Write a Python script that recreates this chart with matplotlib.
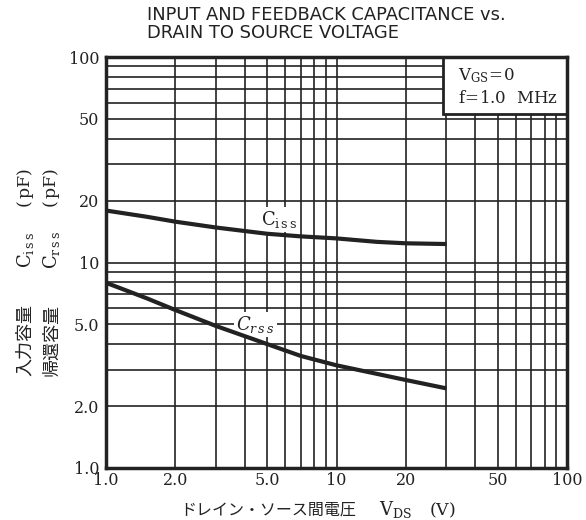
import matplotlib
matplotlib.use("Agg")
import matplotlib.pyplot as plt
from matplotlib.ticker import FixedLocator, FixedFormatter, NullFormatter
from matplotlib.patches import Rectangle

# ---- data ----
vds = [1, 1.5, 2, 3, 5, 7, 10, 15, 20, 30]
ciss = [17.9, 16.7, 15.8, 14.8, 13.8, 13.4, 13.1, 12.6, 12.4, 12.3]
crss = [7.97, 6.7, 5.87, 4.91, 4.01, 3.51, 3.16, 2.87, 2.68, 2.44]

x_ticks = [1, 2, 5, 10, 20, 50, 100]
x_ticklabels = ["1.0", "2.0", "5.0", "10", "20", "50", "100"]
y_ticks = [1, 2, 5, 10, 20, 50, 100]
y_ticklabels = ["1.0", "2.0", "5.0", "10", "20", "50", "100"]
minor_vals = [2, 3, 4, 5, 6, 7, 8, 9, 10, 20, 30, 40, 50, 60, 70, 80, 90]

title_lines = ["INPUT AND FEEDBACK CAPACITANCE vs.", "DRAIN TO SOURCE VOLTAGE"]
plt.rcParams['mathtext.fontset'] = 'dejavuserif'

W, H = 586, 520
fig = plt.figure(figsize=(W / 100, H / 100), dpi=100)
ax = fig.add_axes([106 / W, 1 - 468 / H, (567 - 106) / W, (468 - 57) / H])
ax.set_xscale('log')
ax.set_yscale('log')
ax.set_xlim(1, 100)
ax.set_ylim(1, 100)

ink = '#222222'
for v in minor_vals:
    ax.axvline(v, color=ink, lw=1.2, zorder=1)
    ax.axhline(v, color=ink, lw=1.2, zorder=1)

ax.plot(vds, ciss, color=ink, lw=3.0, zorder=4.5, solid_capstyle='butt')
ax.plot(vds, crss, color=ink, lw=3.0, zorder=4.5, solid_capstyle='butt')

for s in ax.spines.values():
    s.set_linewidth(2.5)
    s.set_color(ink)
    s.set_zorder(6)

ax.xaxis.set_major_locator(FixedLocator(x_ticks))
ax.xaxis.set_major_formatter(FixedFormatter(x_ticklabels))
ax.xaxis.set_minor_formatter(NullFormatter())
ax.yaxis.set_major_locator(FixedLocator(y_ticks))
ax.yaxis.set_major_formatter(FixedFormatter(y_ticklabels))
ax.yaxis.set_minor_formatter(NullFormatter())
ax.tick_params(which='both', length=0, labelsize=11.5, colors=ink)
ax.tick_params(axis='x', pad=3)
ax.tick_params(axis='y', pad=5)
for lab in ax.get_xticklabels() + ax.get_yticklabels():
    lab.set_fontfamily('DejaVu Serif')

# curve labels with white background
ax.text(5.65, 16.2, r'$\mathrm{C}_{\mathrm{i\,s\,s}}$', fontsize=13, ha='center', va='center',
        zorder=4, color=ink,
        bbox=dict(facecolor='white', edgecolor='none', pad=1.5))
ax.text(4.45, 5.0, r'$C_{r\,s\,s}$', fontsize=13, ha='center', va='center',
        zorder=4, color=ink,
        bbox=dict(facecolor='white', edgecolor='none', pad=1.5))

# condition box
bx0 = (443 - 106) / (567 - 106)
by0 = (468 - 114) / (468 - 57)
ax.add_patch(Rectangle((bx0, by0), 1 - bx0, 1 - by0, transform=ax.transAxes,
                       facecolor='white', edgecolor=ink, lw=2.0, zorder=5))
fig.text(458 / W, 1 - 76 / H, r'$\mathrm{V_{GS}\!=\!0}$',
         fontsize=12, va='center', ha='left', zorder=7, color=ink)
fig.text(458 / W, 1 - 98 / H, r'$\mathrm{f\!=\!1.0\ \ MHz}$',
         fontsize=12, va='center', ha='left', zorder=7, color=ink)

# title
fig.text(147 / W, 1 - 14.5 / H, title_lines[0], fontsize=12.9, ha='left', va='center',
         family='DejaVu Sans', color=ink)
fig.text(147 / W, 1 - 33 / H, title_lines[1], fontsize=12.9, ha='left', va='center',
         family='DejaVu Sans', color=ink)

cjk = ['Noto Sans CJK JP', 'DejaVu Sans']
# y labels (rotated), built from pieces
for xc, jp, sub in [(25, '入力容量', 'iss'), (51, '帰還容量', 'rss')]:
    fig.text(xc / W, 1 - 340 / H, jp, rotation=90, fontsize=13,
             ha='center', va='center', family=cjk, color=ink)
    fig.text(xc / W, 1 - 250 / H, r'$\mathrm{C}_{\mathrm{%s}}$' % '\\,'.join(sub), rotation=90,
             fontsize=13, ha='center', va='center', color=ink)
    fig.text(xc / W, 1 - 188 / H, r'$\mathrm{(\,pF)}$', rotation=90,
             fontsize=12.5, ha='center', va='center', color=ink)

# x label, built from pieces
fig.text(268 / W, 1 - 510 / H, 'ドレイン・ソース間電圧', fontsize=11.5,
         ha='center', va='center', family=cjk, color=ink)
fig.text(396 / W, 1 - 510 / H, r'$\mathrm{V_{DS}}$', fontsize=13,
         ha='center', va='center', color=ink)
fig.text(442 / W, 1 - 510 / H, r'$\mathrm{(V)}$', fontsize=12.5,
         ha='center', va='center', color=ink)

fig.savefig('out.png', dpi=100, facecolor='white')
